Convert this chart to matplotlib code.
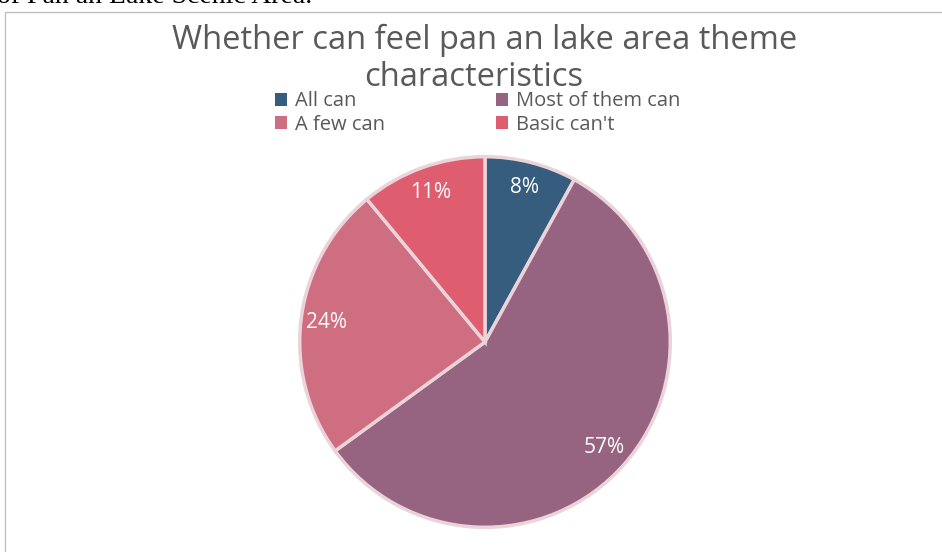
import matplotlib.pyplot as plt
from matplotlib.patches import Rectangle

labels = ["All can", "Most of them can", "A few can", "Basic can't"]
shares = [8, 57, 24, 11]
colors = ["#365C7E", "#966381", "#CF6E80", "#DE5E70"]
title_lines = ["Whether can feel pan an lake area theme", "characteristics"]

W, H = 942, 552
fig = plt.figure(figsize=(W / 100, H / 100), dpi=100)

# cut-off caption from the surrounding document
fig.text(-3 / W, 1 - 3 / H, "of Pan an Lake Scenic Area.", family="Liberation Serif",
         fontsize=20, color="black", va="baseline", ha="left")

# chart frame
fig.patches.append(Rectangle((5 / W, -0.1), 1.1, 1 - 12 / H + 0.1, transform=fig.transFigure,
                             fill=False, edgecolor="#BFBFBF", lw=1))

fig.text(485 / W, 1 - 40 / H, title_lines[0], ha="center", va="center",
         fontsize=23.5, color="#595959", family="Open Sans")
fig.text(474 / W, 1 - 77 / H, title_lines[1], ha="center", va="center",
         fontsize=23.5, color="#595959", family="Open Sans")

# pie
cx, cy, r = 485, 342, 189
ax = fig.add_axes([(cx - r) / W, (H - cy - r) / H, 2 * r / W, 2 * r / H])
wedges, texts, autotexts = ax.pie(
    shares, colors=colors, startangle=90, counterclock=False,
    autopct="%d%%", pctdistance=0.86,
    wedgeprops=dict(edgecolor="#EBD3DA", linewidth=2.5),
    textprops=dict(color="white", fontsize=15, family="Open Sans"))
ax.set_xlim(-1.02, 1.02)
ax.set_ylim(-1.02, 1.02)
ax.set_aspect("equal")

# legend filled row by row
order = [0, 2, 1, 3]
leg = fig.legend([wedges[i] for i in order], [labels[i] for i in order], loc="center",
                 bbox_to_anchor=(478 / W, 1 - 113 / H),
                 ncol=2, frameon=False, handlelength=0.6, handleheight=0.6,
                 handletextpad=0.4, columnspacing=5.5, labelspacing=0.15,
                 borderpad=0, prop=dict(family="Open Sans", size=14.5))
for t in leg.get_texts():
    t.set_color("#595959")
for h in leg.legend_handles:
    h.set_edgecolor("none")

fig.savefig("out.png", dpi=100)
